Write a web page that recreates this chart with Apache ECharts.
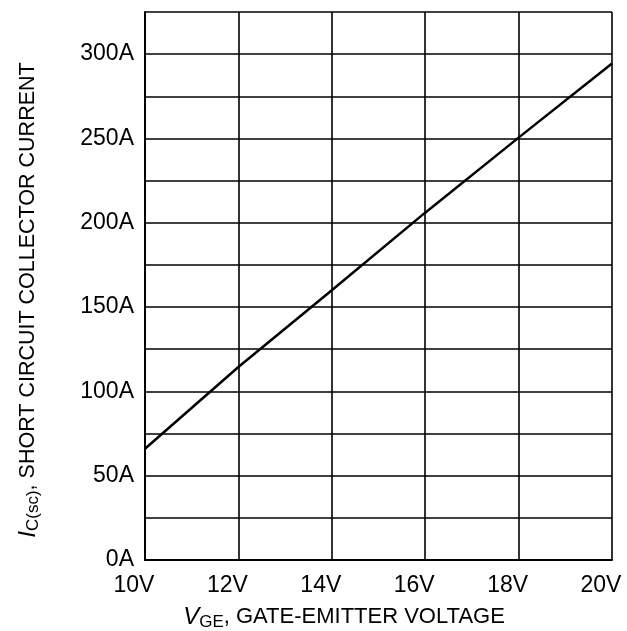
<!DOCTYPE html>
<html>
<head>
<meta charset="utf-8">
<script src="https://cdn.jsdelivr.net/npm/echarts@6/dist/echarts.min.js"></script>
<style>html,body{margin:0;padding:0;background:#fff;}#c{width:627px;height:631px;}</style>
</head>
<body>
<div id="c"></div>
<script>
const vge = [10, 12, 14, 16, 18, 20];
const icsc = [66, 114.5, 160, 206, 250.5, 294.5];
const xTicks = ['10V', '12V', '14V', '16V', '18V', '20V'];
const yTicks = ['0A', '50A', '100A', '150A', '200A', '250A', '300A'];

const chart = echarts.init(document.getElementById('c'));
const font = '"Liberation Sans", Arial, sans-serif';
chart.setOption({
  backgroundColor: '#fff',
  animation: false,
  grid: { left: 145, right: 15, top: 12, bottom: 71, containLabel: false },
  xAxis: {
    type: 'value', min: 10, max: 20, interval: 2,
    axisLine: { show: true, lineStyle: { color: '#000', width: 2 } },
    axisTick: { show: false },
    splitLine: { show: true, lineStyle: { color: '#000', width: 1.6 } },
    axisLabel: {
      color: '#000', fontFamily: font, fontSize: 23, margin: 14,
      padding: [0, 22, 0, 0],
      formatter: v => { const i = vge.indexOf(v); return i >= 0 ? xTicks[i] : ''; }
    }
  },
  yAxis: {
    type: 'value', min: 0, max: 325, interval: 25,
    axisLine: { show: true, lineStyle: { color: '#000', width: 2 } },
    axisTick: { show: false },
    splitLine: { show: true, lineStyle: { color: '#000', width: 1.6 } },
    axisLabel: {
      color: '#000', fontFamily: font, fontSize: 23, margin: 11,
      formatter: v => (v % 50 === 0 ? yTicks[v / 50] : '')
    }
  },
  graphic: [
    {
      type: 'text', x: 344, y: 617,
      style: {
        text: '{i|V}{s|GE}{n|, GATE-EMITTER VOLTAGE}',
        align: 'center', verticalAlign: 'middle',
        rich: {
          i: { fontFamily: font, fontSize: 24, fontStyle: 'italic', fill: '#000' },
          s: { fontFamily: font, fontSize: 17, fill: '#000', padding: [10, 0, 0, 0] },
          n: { fontFamily: font, fontSize: 22, fill: '#000' }
        }
      }
    },
    {
      type: 'text', x: 28, y: 300, rotation: Math.PI / 2,
      style: {
        text: '{i|I}{s|C(sc)}{n|, SHORT CIRCUIT COLLECTOR CURRENT}',
        align: 'center', verticalAlign: 'middle',
        rich: {
          i: { fontFamily: font, fontSize: 24, fontStyle: 'italic', fill: '#000' },
          s: { fontFamily: font, fontSize: 17, fill: '#000', padding: [10, 0, 0, 0] },
          n: { fontFamily: font, fontSize: 21.5, fill: '#000' }
        }
      }
    }
  ],
  series: [{
    type: 'line',
    data: vge.map((v, i) => [v, icsc[i]]),
    symbol: 'none',
    lineStyle: { color: '#000', width: 2.5 },
    z: 5
  }]
});
</script>
</body>
</html>
